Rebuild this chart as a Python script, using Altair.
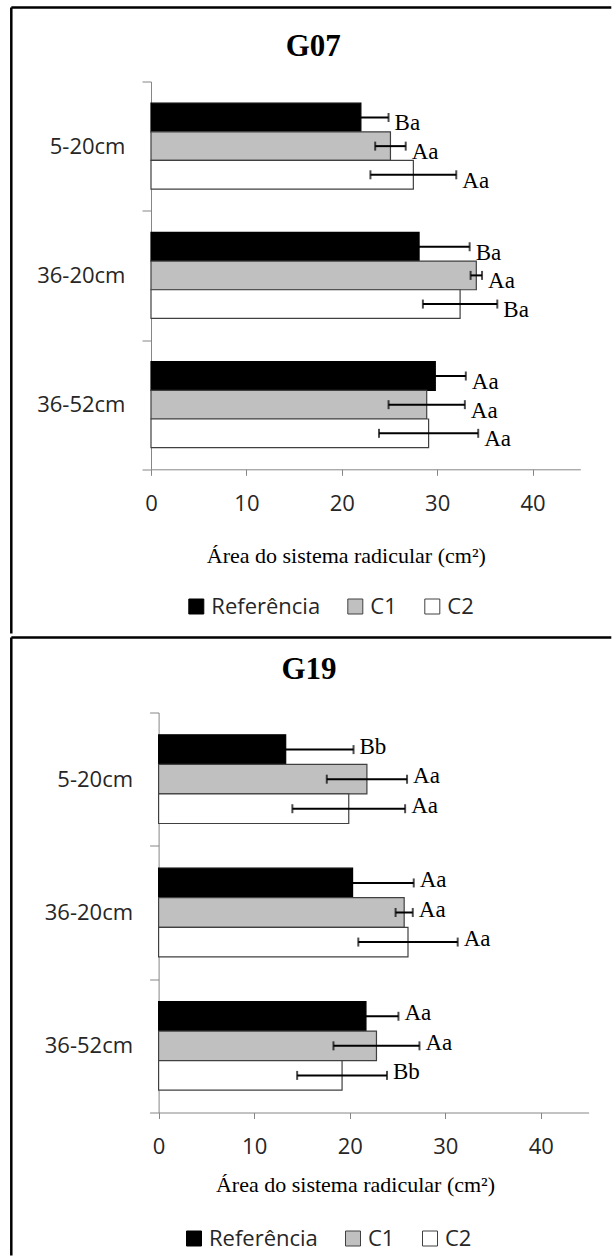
import altair as alt
import pandas as pd

depths = ["5-20cm", "36-20cm", "36-52cm"]
treatments = ["Referência", "C1", "C2"]

# Mean root-system area (cm²), error half-width and significance letters,
# listed depth by depth with the treatments in legend order.
g07_mean = [22.0, 25.1, 27.5, 28.1, 34.1, 32.4, 29.8, 28.9, 29.1]
g07_err = [2.9, 1.6, 4.5, 5.3, 0.6, 3.9, 3.2, 4.0, 5.2]
g07_letters = ["Ba", "Aa", "Aa", "Ba", "Aa", "Ba", "Aa", "Aa", "Aa"]

g19_mean = [13.3, 21.8, 19.9, 20.3, 25.7, 26.1, 21.7, 22.8, 19.2]
g19_err = [7.1, 4.2, 5.9, 6.4, 0.9, 5.2, 3.4, 4.5, 4.7]
g19_letters = ["Bb", "Aa", "Aa", "Aa", "Aa", "Aa", "Aa", "Aa", "Bb"]

x_ticks = [0, 10, 20, 30, 40]
x_max = 45
x_title = "Área do sistema radicular (cm²)"

fill_colors = ["#000000", "#c0c0c0", "#ffffff"]
edge_colors = ["#000000", "#404040", "#404040"]

SANS = "Open Sans"
SERIF = "Liberation Serif"
AXIS_GRAY = "#868686"
TEXT_DARK = "#262626"


def make_table(mean, err, letters):
    rows = []
    for i, d in enumerate(depths):
        for j, t in enumerate(treatments):
            k = i * len(treatments) + j
            rows.append(dict(depth=d, treatment=t, mean=mean[k],
                             lo=mean[k] - err[k], hi=mean[k] + err[k],
                             letter=letters[k]))
    return pd.DataFrame(rows)


def panel(name, mean, err, letters, lay):
    df = make_table(mean, err, letters)
    base = alt.Chart(df)
    inset = lay["inset"]  # plot starts this far right of the shared origin
    plot_w = lay["plot_w"]

    x_axis = alt.Axis(
        values=x_ticks, grid=False, tickSize=6, labelPadding=18,
        labelFlush=False, labelFont=SANS, labelFontSize=22,
        labelColor=TEXT_DARK, domainColor=AXIS_GRAY, tickColor=AXIS_GRAY,
        title=x_title, titleFont=SERIF, titleFontSize=22,
        titleFontWeight="normal", titleColor="black",
        titleX=lay["axis_title_x"], titleY=lay["axis_title_y"],
        titleAlign="center", titleBaseline="middle",
    )
    xs = alt.Scale(domain=[0, x_max], nice=False, range=[inset, inset + plot_w])
    y = alt.Y(
        "depth:N", sort=depths,
        scale=alt.Scale(domain=depths, paddingInner=0, paddingOuter=0),
        axis=alt.Axis(
            title=None, tickBand="extent", tickSize=9, labelPadding=17,
            labelFont=SANS, labelFontSize=22, labelColor=TEXT_DARK,
            domainColor=AXIS_GRAY, tickColor=AXIS_GRAY, grid=False,
            offset=-inset,
        ),
    )
    yoff = alt.YOffset(
        "treatment:N", sort=treatments,
        scale=alt.Scale(domain=treatments, paddingInner=0, paddingOuter=0.755),
    )

    bars = base.mark_bar(strokeWidth=1.2).encode(
        x=alt.X("mean:Q", scale=xs, axis=x_axis),
        y=y,
        yOffset=yoff,
        color=alt.Color(
            "treatment:N",
            scale=alt.Scale(domain=treatments, range=fill_colors),
            legend=alt.Legend(
                title=None, orient="none", direction="horizontal",
                legendX=lay["legend_x"], legendY=lay["legend_y"],
                symbolType="square", symbolSize=225,
                symbolStrokeColor="#404040", symbolStrokeWidth=1,
                labelFont=SANS, labelFontSize=22, labelColor=TEXT_DARK,
                labelOffset=4, columnPadding=24,
            ),
        ),
        stroke=alt.Stroke(
            "treatment:N",
            scale=alt.Scale(domain=treatments, range=edge_colors),
            legend=None,
        ),
    )

    whisker = base.mark_rule(color="black", strokeWidth=2).encode(
        x=alt.X("lo:Q", scale=xs, axis=x_axis), x2="hi:Q", y=y, yOffset=yoff
    )
    cap_lo = base.mark_tick(color="black", thickness=2, size=9).encode(
        x=alt.X("lo:Q", scale=xs, axis=x_axis), y=y, yOffset=yoff
    )
    cap_hi = base.mark_tick(color="black", thickness=2, size=9).encode(
        x=alt.X("hi:Q", scale=xs, axis=x_axis), y=y, yOffset=yoff
    )
    letters_layer = base.mark_text(
        align="left", baseline="middle", dx=6, dy=lay["label_dy"],
        font=SERIF, fontSize=23, color="black",
    ).encode(
        x=alt.X("hi:Q", scale=xs, axis=x_axis), y=y, yOffset=yoff,
        text="letter:N",
    )

    # frame lines and panel heading
    one = alt.Chart(pd.DataFrame({"k": [0]}))
    frame = []
    for (x1, x2, y1, y2) in lay["frame_lines"]:
        if y2 is None:
            frame.append(one.mark_rule(color="black", strokeWidth=2.5).encode(
                x=alt.value(x1), x2=alt.value(x2), y=alt.value(y1)))
        else:
            frame.append(one.mark_rule(color="black", strokeWidth=2.5).encode(
                x=alt.value(x1), y=alt.value(y1), y2=alt.value(y2)))
    heading = one.mark_text(
        font=SERIF, fontSize=31, fontWeight="bold", color="black",
        align="center", baseline="middle",
    ).encode(
        x=alt.value(lay["title_x"]), y=alt.value(lay["title_y"]),
        text=alt.value(name),
    )

    return alt.layer(*frame, heading, bars, whisker, cap_lo, cap_hi,
                     letters_layer).properties(width=inset + plot_w,
                                               height=lay["plot_h"])


top = panel(
    "G07", g07_mean, g07_err, g07_letters,
    dict(
        inset=0, plot_w=429.3, plot_h=387.8,
        axis_title_x=194.8, axis_title_y=86.3,
        legend_x=34.3, legend_y=514, label_dy=6,
        title_x=162.3, title_y=-34.9,
        frame_lines=[(-139.7, 460.3, -74, None), (-139.7, None, -74, 552)],
    ),
)
bottom = panel(
    "G19", g19_mean, g19_err, g19_letters,
    dict(
        inset=7.6, plot_w=430, plot_h=400,
        axis_title_x=204, axis_title_y=71.7,
        legend_x=32, legend_y=515, label_dy=-3,
        title_x=158, title_y=-43,
        frame_lines=[(-139.7, 460.3, -75, None), (-139.7, None, -75, 543)],
    ),
)

chart = (
    alt.vconcat(top, bottom, spacing=0)
    .resolve_scale(color="independent", stroke="independent", yOffset="independent")
    .resolve_legend(color="independent")
    .properties(padding={"left": 10, "top": 5.5, "right": 0, "bottom": 0},
                background="white")
    .configure_view(stroke=None)
)

chart.save("out.html", embed_options={"renderer": "svg", "actions": False})
